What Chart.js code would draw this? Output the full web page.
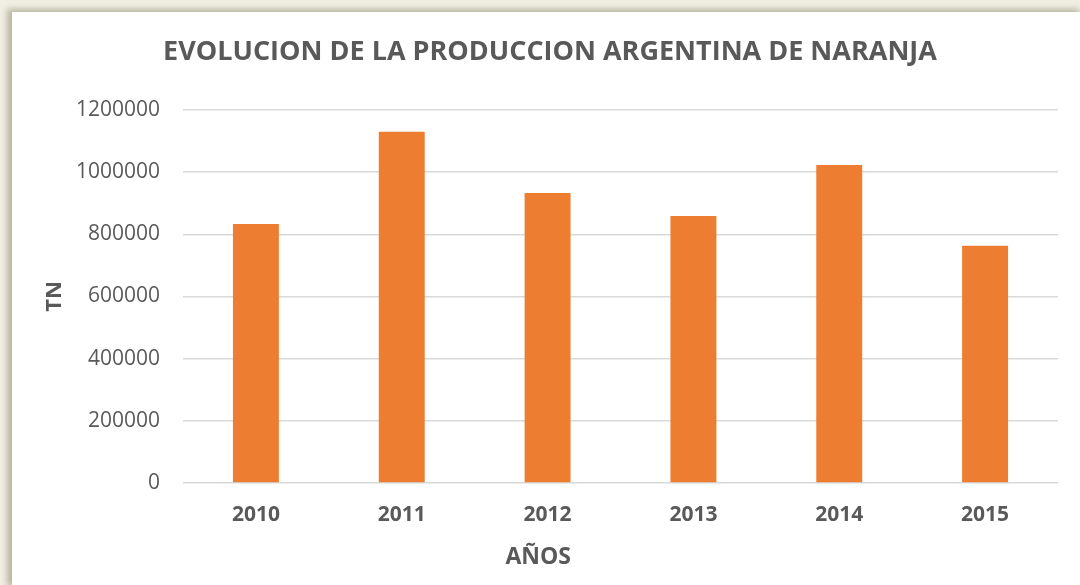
<!DOCTYPE html>
<html>
<head>
<meta charset="utf-8">
<script src="https://cdn.jsdelivr.net/npm/chart.js@4.4.1/dist/chart.umd.min.js"></script>
<style>
  html, body { margin: 0; padding: 0; width: 1080px; height: 585px; overflow: hidden; background: #f1efe4; }
  #card { position: absolute; left: 12px; top: 12px; width: 1068px; height: 573px; background: #ffffff;
          box-shadow: -3px -1px 6px 2px rgba(140,135,110,0.55); }
  canvas { display: block; }
</style>
</head>
<body>
<div id="card"><canvas id="c" width="1068" height="573"></canvas></div>
<script>
const categories = ['2010', '2011', '2012', '2013', '2014', '2015'];
const produccion = [833000, 1130000, 933000, 859000, 1023000, 763000];
const yTicks = [0, 200000, 400000, 600000, 800000, 1000000, 1200000];
const chartTitle = 'EVOLUCION DE LA PRODUCCION ARGENTINA DE NARANJA';
const xTitle = 'AÑOS';
const yTitle = 'TN';

const FONT = "'Open Sans', 'Liberation Sans', sans-serif";
const TEXT = '#595959';

// X-axis title sits left of the plot centre in the original, so draw it here.
const xTitlePlugin = {
  id: 'xTitlePlugin',
  afterDraw(chart) {
    const ctx = chart.ctx;
    const a = chart.chartArea;
    ctx.save();
    ctx.font = "bold 23px " + FONT;
    ctx.fillStyle = TEXT;
    ctx.textAlign = 'center';
    ctx.textBaseline = 'middle';
    ctx.fillText(xTitle, a.left + a.width * 0.406, chart.height - 28);
    ctx.restore();
  }
};

new Chart(document.getElementById('c'), {
  type: 'bar',
  data: {
    labels: categories,
    datasets: [{
      label: 'TN',
      data: produccion,
      backgroundColor: '#ED7D31',
      borderWidth: 0,
      barPercentage: 0.315,
      categoryPercentage: 1.0
    }]
  },
  plugins: [xTitlePlugin],
  options: {
    responsive: false,
    animation: false,
    layout: { padding: { left: 30, right: 22, top: 0, bottom: 0 } },
    plugins: {
      legend: { display: false },
      tooltip: { enabled: false },
      title: {
        display: true,
        text: chartTitle,
        color: TEXT,
        font: { family: FONT, size: 27, weight: 'bold', lineHeight: 1.2 },
        padding: { top: 23.8, bottom: 41.8 }
      }
    },
    scales: {
      x: {
        grid: { display: false, drawTicks: false },
        border: { display: false },
        ticks: { color: TEXT, font: { family: FONT, size: 21, weight: 'bold', lineHeight: 1.2 }, padding: 19.4 },
        title: { display: false },
        afterFit: (s) => { s.height = 102; }
      },
      y: {
        min: 0, max: 1200000,
        afterBuildTicks: (s) => { s.ticks = yTicks.map(v => ({ value: v })); },
        grid: { color: '#D9D9D9', lineWidth: 1.5, drawTicks: false },
        border: { display: false },
        ticks: { color: TEXT, font: { family: FONT, size: 21, lineHeight: 1.2 }, padding: 23,
                 callback: (v) => String(v) },
        title: { display: true, text: yTitle, color: TEXT,
                 font: { family: FONT, size: 22, weight: 'bold', lineHeight: 1.2 }, padding: { top: 0, bottom: 0 } },
        afterFit: (s) => { s.width = 141; }
      }
    }
  }
});
</script>
</body>
</html>
